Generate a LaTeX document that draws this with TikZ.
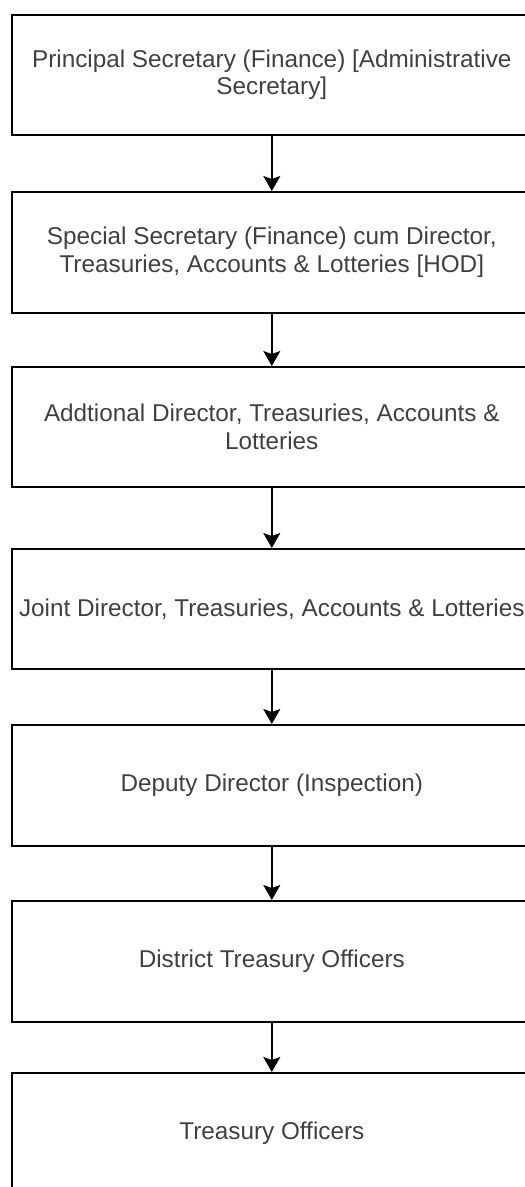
\documentclass[tikz,border=0pt]{standalone}
\usepackage{fontspec}
\setmainfont{Liberation Sans}
\usetikzlibrary{arrows.meta}
\definecolor{txt}{HTML}{404040}
\begin{document}
\begin{tikzpicture}[x=1pt,y=-1pt,
  orgbox/.style={draw=black, line width=1.6pt, rectangle, minimum width=520pt, inner sep=0pt,
    align=center, text=txt, font=\fontsize{24.3}{27.5}\selectfont, anchor=north west},
  arr/.style={line width=1.5pt, -{Stealth[length=15pt, width=17pt, inset=3pt]}}]
\useasboundingbox (0,0) rectangle (525,1187);
\clip (0,0) rectangle (525,1187);
\node[orgbox, minimum height=120pt] (b1) at (11,14) {Principal Secretary (Finance) [Administrative\\Secretary]};
\node[orgbox, minimum height=121pt] (b2) at (11,191) {Special Secretary (Finance) cum Director,\\Treasuries, Accounts \& Lotteries [HOD]};
\node[orgbox, minimum height=120pt] (b3) at (11,366) {Addtional Director, Treasuries, Accounts \&\\Lotteries};
\node[orgbox, minimum height=120pt] (b4) at (11,548) {Joint Director, Treasuries, Accounts \& Lotteries};
\node[orgbox, minimum height=121pt] (b5) at (11,724) {Deputy Director (Inspection)};
\node[orgbox, minimum height=121pt] (b6) at (11,900) {District Treasury Officers};
\node[orgbox, minimum height=120pt] (b7) at (11,1072) {Treasury Officers};
\draw[arr] (b1.south) -- (b2.north);
\draw[arr] (b2.south) -- (b3.north);
\draw[arr] (b3.south) -- (b4.north);
\draw[arr] (b4.south) -- (b5.north);
\draw[arr] (b5.south) -- (b6.north);
\draw[arr] (b6.south) -- (b7.north);
\end{tikzpicture}
\end{document}
